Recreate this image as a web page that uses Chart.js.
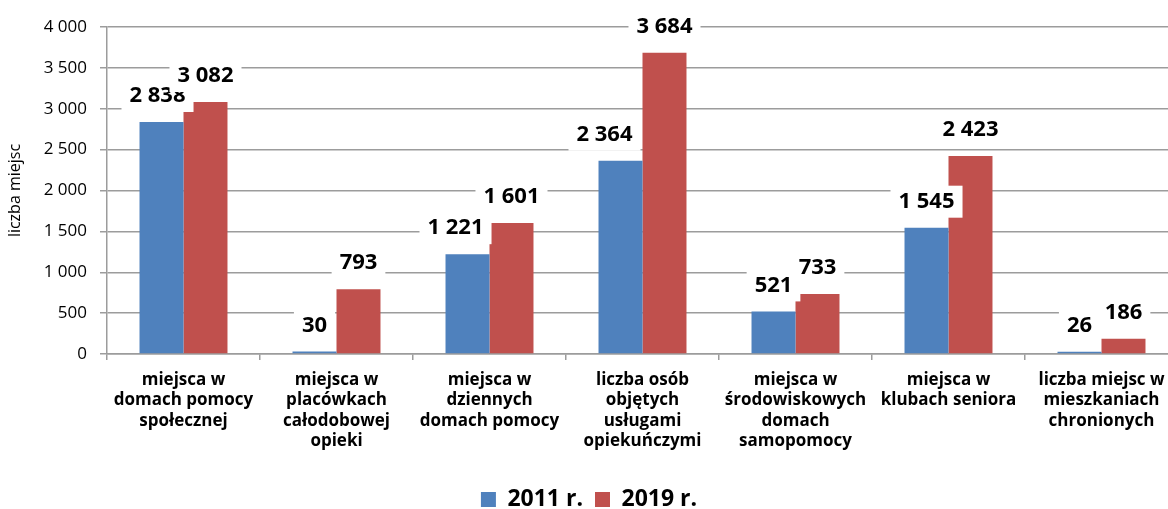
<!DOCTYPE html>
<html><head><meta charset="utf-8">
<script src="https://cdn.jsdelivr.net/npm/chart.js@4.4.0/dist/chart.umd.min.js"></script>
<style>
html,body{margin:0;padding:0;overflow:hidden;background:#fff;width:1168px;height:509px}
#wrap{width:1180px;height:521px}
</style></head>
<body><div id="wrap"><canvas id="c" width="1180" height="521"></canvas></div>
<script>
const categories = [
  ['miejsca w','domach pomocy','społecznej'],
  ['miejsca w','placówkach','całodobowej','opieki'],
  ['miejsca w','dziennych','domach pomocy'],
  ['liczba osób','objętych','usługami','opiekuńczymi'],
  ['miejsca w','środowiskowych','domach','samopomocy'],
  ['miejsca w','klubach seniora'],
  ['liczba miejsc w','mieszkaniach','chronionych']
];
const seriesNames = ['2011 r.', '2019 r.'];
const values2011 = [2838, 30, 1221, 2364, 521, 1545, 26];
const values2019 = [3082, 793, 1601, 3684, 733, 2423, 186];
const yTickValues = [0, 500, 1000, 1500, 2000, 2500, 3000, 3500, 4000];
const yTitle = 'liczba miejsc';

const labelNudgeX2011 = [-4, 0, -12, -16, 0, 0, 0];

function fmt(n){ return String(n).replace(/\B(?=(\d{3})+(?!\d))/g, ' '); }

const FONT = '"Open Sans"';
const GRID = '#9c9c9c';

const valueLabels = {
  id: 'valueLabels',
  afterDatasetsDraw(chart){
    const ctx = chart.ctx;
    ctx.save();
    ctx.font = 'bold 22px ' + FONT;
    ctx.textAlign = 'center';
    ctx.textBaseline = 'middle';
    chart.data.datasets.forEach((ds, di) => {
      const meta = chart.getDatasetMeta(di);
      meta.data.forEach((bar, i) => {
        const txt = fmt(ds.data[i]);
        const x = bar.x + (di === 0 ? labelNudgeX2011[i] : 0);
        const y = bar.y - 26;
        const w = ctx.measureText(txt).width;
        ctx.fillStyle = '#ffffff';
        ctx.fillRect(x - w/2 - 8, y - 16, w + 16, 32);
        ctx.fillStyle = '#000000';
        ctx.fillText(txt, x, y);
      });
    });
    ctx.restore();
  }
};

new Chart(document.getElementById('c'), {
  type: 'bar',
  data: {
    labels: categories,
    datasets: [
      { label: seriesNames[0], data: values2011, backgroundColor: '#4F81BD', categoryPercentage: 0.575, barPercentage: 1.0 },
      { label: seriesNames[1], data: values2019, backgroundColor: '#C0504D', categoryPercentage: 0.575, barPercentage: 1.0 }
    ]
  },
  options: {
    responsive: false,
    animation: false,
    devicePixelRatio: 1,
    layout: { padding: { top: 27, right: 2, left: 0, bottom: 0 } },
    plugins: {
      tooltip: { enabled: false },
      legend: {
        position: 'bottom',
        labels: { font: { family: FONT, size: 23, weight: 'bold' }, color: '#000', boxWidth: 15, boxHeight: 15, padding: 12 }
      }
    },
    scales: {
      x: {
        grid: { offset: true, drawOnChartArea: false, drawTicks: true, tickLength: 6, color: GRID, lineWidth: 1.5 },
        border: { color: GRID, width: 1.5 },
        ticks: { font: { family: FONT, size: 17, weight: 'bold', lineHeight: 1.2 }, color: '#000', padding: 10, maxRotation: 0, autoSkip: false },
        afterFit: s => { s.height = 122; }
      },
      y: {
        min: 0, max: 4000,
        afterBuildTicks: s => { s.ticks = yTickValues.map(v => ({ value: v })); },
        ticks: { font: { family: FONT, size: 17 }, color: '#000', padding: 13, callback: v => fmt(v) },
        grid: { color: GRID, lineWidth: 1.5, tickLength: 7 },
        border: { color: GRID, width: 1.5 },
        title: { display: true, text: yTitle, font: { family: FONT, size: 16 }, color: '#000', padding: { top: 6, bottom: 0 } },
        afterFit: s => { s.width = 107; }
      }
    }
  },
  plugins: [valueLabels]
});
</script>
</body></html>
